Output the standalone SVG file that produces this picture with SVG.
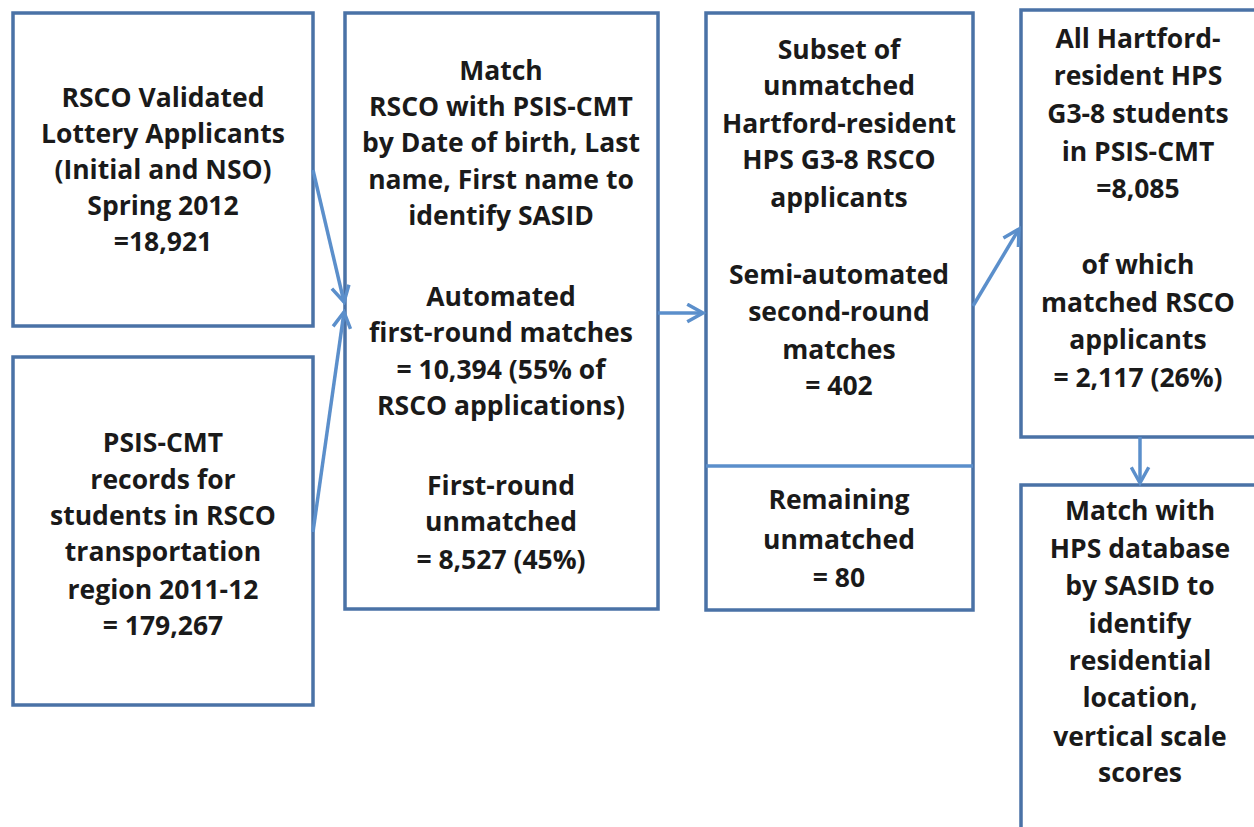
<svg xmlns="http://www.w3.org/2000/svg" width="1254" height="827" viewBox="0 0 1254 827">
<defs>
<style>
.box{fill:#fff;stroke:#4a72a6;stroke-width:3.5}
.t{font-family:"Open Sans","Liberation Sans",sans-serif;font-weight:bold;font-size:26.5px;fill:#1a1a1a;text-anchor:middle}
.c{stroke:#5b8fcb;stroke-width:3.5;fill:none}
</style>
<marker id="ah" viewBox="0 0 12 12" refX="10" refY="6" markerWidth="6" markerHeight="6" orient="auto" markerUnits="strokeWidth">
<path d="M1,1 L10,6 L1,11" fill="none" stroke="#5b8fcb" stroke-width="2"/>
</marker>
</defs>
<rect width="1254" height="827" fill="#fff"/>
<g id="n1">
<rect class="box" x="13" y="13" width="300" height="313"/>
<text class="t"><tspan x="163" y="107">RSCO Validated</tspan><tspan x="163" y="143">Lottery Applicants</tspan><tspan x="163" y="179">(Initial and NSO)</tspan><tspan x="163" y="215">Spring 2012</tspan><tspan x="163" y="251">=18,921</tspan></text>
</g>
<g id="n2">
<rect class="box" x="13" y="357" width="300" height="348"/>
<text class="t"><tspan x="163" y="452">PSIS-CMT</tspan><tspan x="163" y="489">records for</tspan><tspan x="163" y="525">students in RSCO</tspan><tspan x="163" y="561">transportation</tspan><tspan x="163" y="599">region 2011-12</tspan><tspan x="163" y="635">= 179,267</tspan></text>
</g>
<g id="n3">
<rect class="box" x="345" y="13" width="313" height="596"/>
<text class="t"><tspan x="501" y="80">Match</tspan><tspan x="501" y="116">RSCO with PSIS-CMT</tspan><tspan x="501" y="152">by Date of birth, Last</tspan><tspan x="501" y="189">name, First name to</tspan><tspan x="501" y="225">identify SASID</tspan><tspan x="501" y="306">Automated</tspan><tspan x="501" y="342">first-round matches</tspan><tspan x="501" y="379">= 10,394 (55% of</tspan><tspan x="501" y="415">RSCO applications)</tspan><tspan x="501" y="495">First-round</tspan><tspan x="501" y="531">unmatched</tspan><tspan x="501" y="569">= 8,527 (45%)</tspan></text>
</g>
<g id="n4">
<rect class="box" x="706" y="13" width="267" height="597"/>
<line class="box" x1="706" y1="466" x2="973" y2="466" style="stroke:#5b8fcb"/>
<text class="t"><tspan x="839" y="59">Subset of</tspan><tspan x="839" y="95">unmatched</tspan><tspan x="839" y="133">Hartford-resident</tspan><tspan x="839" y="169">HPS G3-8 RSCO</tspan><tspan x="839" y="207">applicants</tspan><tspan x="839" y="284">Semi-automated</tspan><tspan x="839" y="321">second-round</tspan><tspan x="839" y="359">matches</tspan><tspan x="839" y="395">= 402</tspan><tspan x="839" y="509">Remaining</tspan><tspan x="839" y="549">unmatched</tspan><tspan x="839" y="587">= 80</tspan></text>
</g>
<g id="n5">
<rect class="box" x="1021" y="10" width="250" height="427"/>
<text class="t"><tspan x="1138" y="48">All Hartford-</tspan><tspan x="1138" y="85">resident HPS</tspan><tspan x="1138" y="123">G3-8 students</tspan><tspan x="1138" y="161">in PSIS-CMT</tspan><tspan x="1138" y="198">=8,085</tspan><tspan x="1138" y="274">of which</tspan><tspan x="1138" y="312">matched RSCO</tspan><tspan x="1138" y="349">applicants</tspan><tspan x="1138" y="387">= 2,117 (26%)</tspan></text>
</g>
<g id="n6">
<rect class="box" x="1021" y="485" width="250" height="360"/>
<text class="t"><tspan x="1140" y="520">Match with</tspan><tspan x="1140" y="558">HPS database</tspan><tspan x="1140" y="595">by SASID to</tspan><tspan x="1140" y="633">identify</tspan><tspan x="1140" y="670">residential</tspan><tspan x="1140" y="707">location,</tspan><tspan x="1140" y="746">vertical scale</tspan><tspan x="1140" y="782">scores</tspan></text>
</g>
<g id="connectors">
<line class="c" x1="313" y1="170" x2="344" y2="302" marker-end="url(#ah)"/>
<line class="c" x1="313" y1="532" x2="344" y2="312" marker-end="url(#ah)"/>
<line class="c" x1="658" y1="313" x2="703" y2="313" marker-end="url(#ah)"/>
<line class="c" x1="973" y1="306" x2="1019" y2="229" marker-end="url(#ah)"/>
<line class="c" x1="1140" y1="437" x2="1140" y2="483" marker-end="url(#ah)"/>
</g>
</svg>
